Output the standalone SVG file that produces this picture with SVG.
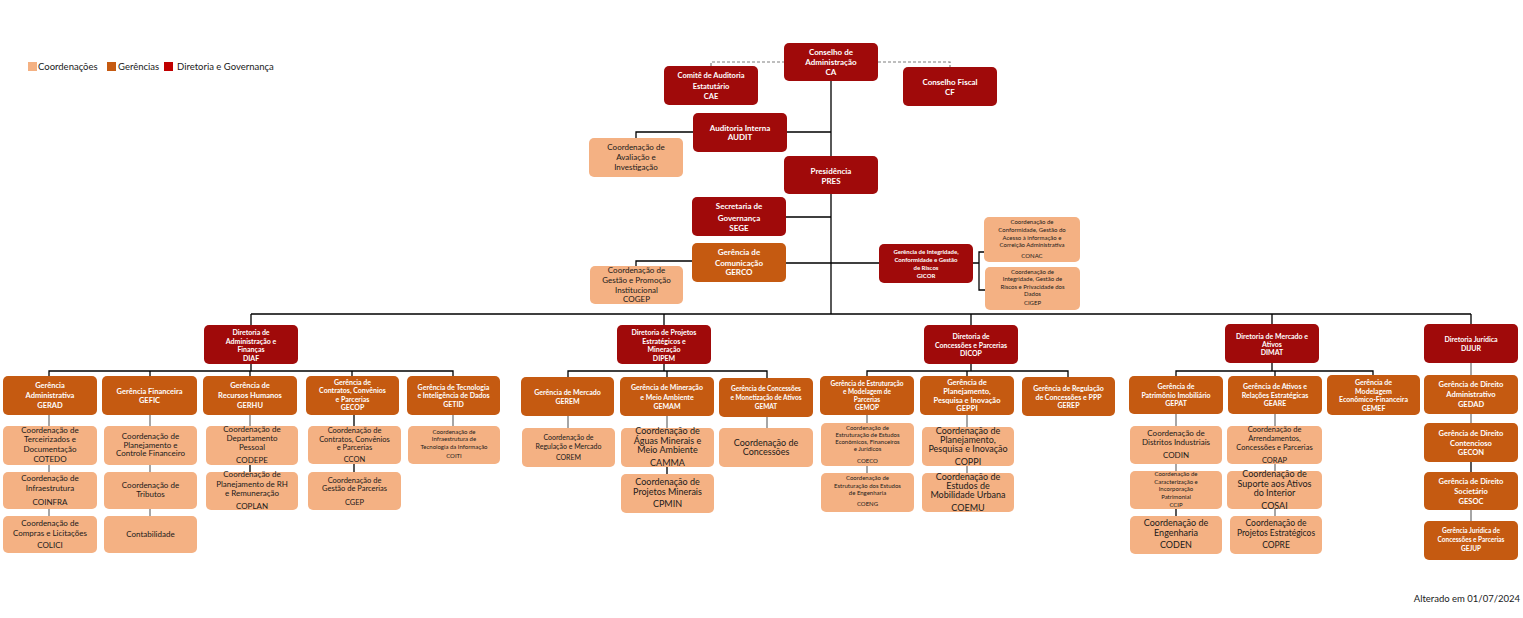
<svg xmlns="http://www.w3.org/2000/svg" width="1523" height="618" viewBox="0 0 1523 618">
<style>
text{font-family:Lato,"Liberation Sans",sans-serif;text-anchor:middle}
.d{fill:#A00A0A}
.g{fill:#C55A11}
.c{fill:#F4B183}
.w{fill:#fff;font-weight:bold}
.k{fill:#1a1a1a}
.ln{stroke:#000;stroke-width:1.3;fill:none}
.gr{stroke:#A6A6A6;stroke-width:2;fill:none}
.ds{stroke:#7F7F7F;stroke-width:1.2;stroke-dasharray:3,2;fill:none}
</style>
<rect width="1523" height="618" fill="#fff"/>
<g id="legend">
<rect x="28" y="62" width="9" height="9" class="c"/>
<text x="38" y="70" style="text-anchor:start;font-size:9.5px" class="k">Coordenações</text>
<rect x="107" y="62" width="9" height="9" class="g"/>
<text x="118" y="70" style="text-anchor:start;font-size:9.5px" class="k">Gerências</text>
<rect x="164" y="62" width="9" height="9" fill="#C00000"/>
<text x="177" y="70" style="text-anchor:start;font-size:9.5px" class="k">Diretoria e Governança</text>
</g>
<g id="connectors">
<path class="ds" d="M711,66V62H784M878,62H950V67"/>
<path class="ln" d="M831,81V314M787,132H831M693,132H636V138M786,217H831M786,263H879M692,261H636V266M973,263H979M985,252H979V290H985"/>
<path class="ln" d="M251,314H1471M251,314V325M664,314V325M971,314V325M1272,314V324M1471,314V324"/>
<path class="ln" d="M251,364V371M49,376V371H453V376M150,371V376M250,371V376M352,371V376"/>
<path class="ln" d="M664,364V371M568,377V371H767V378M667,371V377"/>
<path class="ln" d="M971,364V371M867,376V371H1068V377M967,371V376"/>
<path class="ln" d="M1272,363V371M1176,376V371H1373V375M1275,371V376"/>
<path class="gr" d="M49,415V426M49,465V472M49,509V516M150,415V426M150,465V472M150,509V516M250,415V426M453,414V426M568,416V428M667,416V428M767,417V428M867,415V423M867,466V473M967,415V427M967,466V473M1176,414V426M1176,464V471M1275,414V426M1275,464V471M1275,509V516M1471,363V375M1471,414V423M1471,510V521"/>
<path class="ln" d="M250,465V472M354,415V426M354,464V472M667,467V474M1176,509V516M1471,462V472"/>
</g>
<g id="CA"><rect x="784" y="43" width="94" height="38" rx="5" class="d"/><text class="w" style="font-size:8px"><tspan x="831" y="55.3">Conselho de</tspan><tspan x="831" y="65.3">Administração</tspan><tspan x="831" y="75.3">CA</tspan></text></g>
<g id="CAE"><rect x="664" y="66" width="94" height="39" rx="5" class="d"/><text class="w" style="font-size:7.5px"><tspan x="711" y="78">Comitê de Auditoria</tspan><tspan x="711" y="89">Estatutário</tspan><tspan x="711" y="99">CAE</tspan></text></g>
<g id="CF"><rect x="903" y="67" width="94" height="39" rx="5" class="d"/><text class="w" style="font-size:8px"><tspan x="950" y="84.5">Conselho Fiscal</tspan><tspan x="950" y="94.5">CF</tspan></text></g>
<g id="AUDIT"><rect x="693" y="113" width="94" height="39" rx="5" class="d"/><text class="w" style="font-size:8px"><tspan x="740" y="130.5">Auditoria Interna</tspan><tspan x="740" y="140">AUDIT</tspan></text></g>
<g id="CAVI"><rect x="589" y="138" width="94" height="39" rx="5" class="c"/><text class="k" style="font-size:8px"><tspan x="636" y="150">Coordenação de</tspan><tspan x="636" y="160">Avaliação e</tspan><tspan x="636" y="170">Investigação</tspan></text></g>
<g id="PRES"><rect x="784" y="156" width="94" height="38" rx="5" class="d"/><text class="w" style="font-size:8px"><tspan x="831" y="174">Presidência</tspan><tspan x="831" y="183.5">PRES</tspan></text></g>
<g id="SEGE"><rect x="692" y="197" width="94" height="39" rx="5" class="d"/><text class="w" style="font-size:8px"><tspan x="739" y="209">Secretaria de</tspan><tspan x="739" y="220.5">Governança</tspan><tspan x="739" y="230.5">SEGE</tspan></text></g>
<g id="GERCO"><rect x="692" y="243" width="94" height="39" rx="5" class="g"/><text class="w" style="font-size:8px"><tspan x="739" y="255">Gerência de</tspan><tspan x="739" y="265.5">Comunicação</tspan><tspan x="739" y="275">GERCO</tspan></text></g>
<g id="COGEP"><rect x="590" y="266" width="93" height="38" rx="5" class="c"/><text class="k" style="font-size:8px"><tspan x="636.5" y="273">Coordenação de</tspan><tspan x="636.5" y="283">Gestão e Promoção</tspan><tspan x="636.5" y="293">Institucional</tspan><tspan x="636.5" y="302">COGEP</tspan></text></g>
<g id="GICOR"><rect x="879" y="244" width="94" height="39" rx="5" class="d"/><text class="w" style="font-size:6px"><tspan x="926" y="254">Gerência de Integridade,</tspan><tspan x="926" y="262">Conformidade e Gestão</tspan><tspan x="926" y="270">de Riscos</tspan><tspan x="926" y="278">GICOR</tspan></text></g>
<g id="CONAC"><rect x="984" y="217" width="96" height="45" rx="5" class="c"/><text class="k" style="font-size:6px"><tspan x="1032" y="224">Coordenação de</tspan><tspan x="1032" y="232">Conformidade, Gestão do</tspan><tspan x="1032" y="240">Acesso à informação e</tspan><tspan x="1032" y="247">Correição Administrativa</tspan><tspan x="1032" y="258">CONAC</tspan></text></g>
<g id="CIGEP"><rect x="985" y="267" width="95" height="43" rx="5" class="c"/><text class="k" style="font-size:6px"><tspan x="1032.5" y="274">Coordenação de</tspan><tspan x="1032.5" y="281">Integridade, Gestão de</tspan><tspan x="1032.5" y="289">Riscos e Privacidade dos</tspan><tspan x="1032.5" y="296">Dados</tspan><tspan x="1032.5" y="305">CIGEP</tspan></text></g>
<g id="DIAF"><rect x="204" y="325" width="94" height="39" rx="5" class="d"/><text class="w" style="font-size:7px"><tspan x="251" y="334.5">Diretoria de</tspan><tspan x="251" y="343.5">Administração e</tspan><tspan x="251" y="351.5">Finanças</tspan><tspan x="251" y="360.5">DIAF</tspan></text></g>
<g id="DIPEM"><rect x="617" y="325" width="94" height="39" rx="5" class="d"/><text class="w" style="font-size:7px"><tspan x="664" y="334.5">Diretoria de Projetos</tspan><tspan x="664" y="343.5">Estratégicos e</tspan><tspan x="664" y="351.5">Mineração</tspan><tspan x="664" y="360.5">DIPEM</tspan></text></g>
<g id="DICOP"><rect x="924" y="325" width="94" height="39" rx="5" class="d"/><text class="w" style="font-size:7px"><tspan x="971" y="338.5">Diretoria de</tspan><tspan x="971" y="347.5">Concessões e Parcerias</tspan><tspan x="971" y="355.5">DICOP</tspan></text></g>
<g id="DIMAT"><rect x="1225" y="324" width="94" height="39" rx="5" class="d"/><text class="w" style="font-size:7px"><tspan x="1272" y="338.5">Diretoria de Mercado e</tspan><tspan x="1272" y="346.5">Ativos</tspan><tspan x="1272" y="354.5">DIMAT</tspan></text></g>
<g id="DIJUR"><rect x="1424" y="324" width="94" height="39" rx="5" class="d"/><text class="w" style="font-size:7px"><tspan x="1471" y="341.5">Diretoria Jurídica</tspan><tspan x="1471" y="350.5">DIJUR</tspan></text></g>
<g id="GERAD"><rect x="3" y="376" width="94" height="39" rx="5" class="g"/><text class="w" style="font-size:7.5px"><tspan x="50" y="387.6">Gerência</tspan><tspan x="50" y="397.6">Administrativa</tspan><tspan x="50" y="407.6">GERAD</tspan></text></g>
<g id="GEFIC"><rect x="102" y="376" width="95" height="39" rx="5" class="g"/><text class="w" style="font-size:7.5px"><tspan x="149.5" y="393.6">Gerência Financeira</tspan><tspan x="149.5" y="402.6">GEFIC</tspan></text></g>
<g id="GERHU"><rect x="203" y="376" width="94" height="39" rx="5" class="g"/><text class="w" style="font-size:7.5px"><tspan x="250" y="387.6">Gerência de</tspan><tspan x="250" y="397.6">Recursos Humanos</tspan><tspan x="250" y="407.6">GERHU</tspan></text></g>
<g id="GECOP"><rect x="306" y="376" width="93" height="39" rx="5" class="g"/><text class="w" style="font-size:7px"><tspan x="352.5" y="384.5">Gerência de</tspan><tspan x="352.5" y="393">Contratos, Convênios</tspan><tspan x="352.5" y="401.5">e Parcerias</tspan><tspan x="352.5" y="410">GECOP</tspan></text></g>
<g id="GETID"><rect x="407" y="376" width="93" height="39" rx="5" class="g"/><text class="w" style="font-size:7px"><tspan x="453.5" y="389.5">Gerência de Tecnologia</tspan><tspan x="453.5" y="397.5">e Inteligência de Dados</tspan><tspan x="453.5" y="406.5">GETID</tspan></text></g>
<g id="COTEDO"><rect x="3" y="426" width="94" height="39" rx="5" class="c"/><text class="k" style="font-size:8px"><tspan x="50" y="432.5">Coordenação de</tspan><tspan x="50" y="442">Terceirizados e</tspan><tspan x="50" y="451.5">Documentação</tspan><tspan x="50" y="461.5">COTEDO</tspan></text></g>
<g id="COINFRA"><rect x="3" y="472" width="94" height="37" rx="5" class="c"/><text class="k" style="font-size:8px"><tspan x="50" y="481">Coordenação de</tspan><tspan x="50" y="491">Infraestrutura</tspan><tspan x="50" y="504.5">COINFRA</tspan></text></g>
<g id="COLICI"><rect x="3" y="516" width="94" height="37" rx="5" class="c"/><text class="k" style="font-size:8px"><tspan x="50" y="525.5">Coordenação de</tspan><tspan x="50" y="535.5">Compras e Licitações</tspan><tspan x="50" y="547.5">COLICI</tspan></text></g>
<g id="CPCF"><rect x="104" y="426" width="93" height="39" rx="5" class="c"/><text class="k" style="font-size:8px"><tspan x="150.5" y="438.5">Coordenação de</tspan><tspan x="150.5" y="447.5">Planejamento e</tspan><tspan x="150.5" y="456">Controle Financeiro</tspan></text></g>
<g id="CTRIB"><rect x="104" y="472" width="93" height="37" rx="5" class="c"/><text class="k" style="font-size:8px"><tspan x="150.5" y="487.5">Coordenação de</tspan><tspan x="150.5" y="496.5">Tributos</tspan></text></g>
<g id="CONTAB"><rect x="104" y="516" width="93" height="37" rx="5" class="c"/><text class="k" style="font-size:8px"><tspan x="150.5" y="537">Contabilidade</tspan></text></g>
<g id="CODEPE"><rect x="206" y="426" width="92" height="39" rx="5" class="c"/><text class="k" style="font-size:8px"><tspan x="252" y="432">Coordenação de</tspan><tspan x="252" y="441">Departamento</tspan><tspan x="252" y="450">Pessoal</tspan><tspan x="252" y="462.5">CODEPE</tspan></text></g>
<g id="COPLAN"><rect x="206" y="472" width="92" height="38" rx="5" class="c"/><text class="k" style="font-size:8px"><tspan x="252" y="477">Coordenação de</tspan><tspan x="252" y="486.5">Planejamento de RH</tspan><tspan x="252" y="496">e Remuneração</tspan><tspan x="252" y="508.5">COPLAN</tspan></text></g>
<g id="CCON"><rect x="308" y="426" width="93" height="38" rx="5" class="c"/><text class="k" style="font-size:7.5px"><tspan x="354.5" y="432.5">Coordenação de</tspan><tspan x="354.5" y="441.5">Contratos, Convênios</tspan><tspan x="354.5" y="449.5">e Parcerias</tspan><tspan x="354.5" y="461.5">CCON</tspan></text></g>
<g id="CGEP"><rect x="308" y="472" width="93" height="38" rx="5" class="c"/><text class="k" style="font-size:7.5px"><tspan x="354.5" y="483">Coordenação de</tspan><tspan x="354.5" y="491">Gestão de Parcerias</tspan><tspan x="354.5" y="504.5">CGEP</tspan></text></g>
<g id="COITI"><rect x="408" y="426" width="92" height="38" rx="5" class="c"/><text class="k" style="font-size:6px"><tspan x="454" y="434">Coordenação de</tspan><tspan x="454" y="441">Infraestrutura de</tspan><tspan x="454" y="449">Tecnologia da Informação</tspan><tspan x="454" y="458">COITI</tspan></text></g>
<g id="GEREM"><rect x="521" y="377" width="93" height="39" rx="5" class="g"/><text class="w" style="font-size:7px"><tspan x="567.5" y="394.5">Gerência de Mercado</tspan><tspan x="567.5" y="403.5">GEREM</tspan></text></g>
<g id="GEMAM"><rect x="620" y="377" width="94" height="39" rx="5" class="g"/><text class="w" style="font-size:7px"><tspan x="667" y="389.5">Gerência de Mineração</tspan><tspan x="667" y="399.5">e Meio Ambiente</tspan><tspan x="667" y="408.5">GEMAM</tspan></text></g>
<g id="GEMAT"><rect x="719" y="378" width="94" height="39" rx="5" class="g"/><text class="w" style="font-size:6.5px"><tspan x="766" y="391">Gerência de Concessões</tspan><tspan x="766" y="399.5">e Monetização de Ativos</tspan><tspan x="766" y="408.5">GEMAT</tspan></text></g>
<g id="COREM"><rect x="522" y="428" width="93" height="39" rx="5" class="c"/><text class="k" style="font-size:7px"><tspan x="568.5" y="439.5">Coordenação de</tspan><tspan x="568.5" y="448.5">Regulação e Mercado</tspan><tspan x="568.5" y="459.5">COREM</tspan></text></g>
<g id="CAMMA"><rect x="621" y="428" width="93" height="39" rx="5" class="c"/><text class="k" style="font-size:9px"><tspan x="667.5" y="434">Coordenação de</tspan><tspan x="667.5" y="444">Águas Minerais e</tspan><tspan x="667.5" y="453">Meio Ambiente</tspan><tspan x="667.5" y="466">CAMMA</tspan></text></g>
<g id="CPMIN"><rect x="621" y="474" width="93" height="39" rx="5" class="c"/><text class="k" style="font-size:9px"><tspan x="667.5" y="485">Coordenação de</tspan><tspan x="667.5" y="495">Projetos Minerais</tspan><tspan x="667.5" y="507">CPMIN</tspan></text></g>
<g id="CCONC"><rect x="719" y="428" width="94" height="39" rx="5" class="c"/><text class="k" style="font-size:9px"><tspan x="766" y="446">Coordenação de</tspan><tspan x="766" y="455">Concessões</tspan></text></g>
<g id="GEMOP"><rect x="820" y="376" width="94" height="39" rx="5" class="g"/><text class="w" style="font-size:6.5px"><tspan x="867" y="385.5">Gerência de Estruturação</tspan><tspan x="867" y="393.5">e Modelagem de</tspan><tspan x="867" y="401.5">Parcerias</tspan><tspan x="867" y="409.5">GEMOP</tspan></text></g>
<g id="GEPPI"><rect x="920" y="376" width="94" height="39" rx="5" class="g"/><text class="w" style="font-size:7.5px"><tspan x="967" y="384.5">Gerência de</tspan><tspan x="967" y="393.5">Planejamento,</tspan><tspan x="967" y="402.5">Pesquisa e Inovação</tspan><tspan x="967" y="410.5">GEPPI</tspan></text></g>
<g id="GEREP"><rect x="1022" y="377" width="93" height="39" rx="5" class="g"/><text class="w" style="font-size:7px"><tspan x="1068.5" y="390.5">Gerência de Regulação</tspan><tspan x="1068.5" y="399.5">de Concessões e PPP</tspan><tspan x="1068.5" y="407.5">GEREP</tspan></text></g>
<g id="COECO"><rect x="821" y="423" width="93" height="43" rx="5" class="c"/><text class="k" style="font-size:6px"><tspan x="867.5" y="430">Coordenação de</tspan><tspan x="867.5" y="437">Estruturação de Estudos</tspan><tspan x="867.5" y="444">Econômicos, Financeiros</tspan><tspan x="867.5" y="451">e Jurídicos</tspan><tspan x="867.5" y="463">COECO</tspan></text></g>
<g id="COENG"><rect x="821" y="473" width="93" height="39" rx="5" class="c"/><text class="k" style="font-size:6px"><tspan x="867.5" y="480">Coordenação de</tspan><tspan x="867.5" y="488">Estruturação dos Estudos</tspan><tspan x="867.5" y="495">de Engenharia</tspan><tspan x="867.5" y="506">COENG</tspan></text></g>
<g id="COPPI"><rect x="922" y="427" width="92" height="39" rx="5" class="c"/><text class="k" style="font-size:9px"><tspan x="968" y="434">Coordenação de</tspan><tspan x="968" y="443">Planejamento,</tspan><tspan x="968" y="452">Pesquisa e Inovação</tspan><tspan x="968" y="465">COPPI</tspan></text></g>
<g id="COEMU"><rect x="922" y="473" width="92" height="39" rx="5" class="c"/><text class="k" style="font-size:9px"><tspan x="968" y="480">Coordenação de</tspan><tspan x="968" y="489">Estudos de</tspan><tspan x="968" y="498">Mobilidade Urbana</tspan><tspan x="968" y="511">COEMU</tspan></text></g>
<g id="GEPAT"><rect x="1129" y="376" width="94" height="38" rx="5" class="g"/><text class="w" style="font-size:7px"><tspan x="1176" y="388.5">Gerência de</tspan><tspan x="1176" y="397.5">Patrimônio Imobiliário</tspan><tspan x="1176" y="405.5">GEPAT</tspan></text></g>
<g id="GEARE"><rect x="1228" y="376" width="94" height="38" rx="5" class="g"/><text class="w" style="font-size:7px"><tspan x="1275" y="388.5">Gerência de Ativos e</tspan><tspan x="1275" y="397.5">Relações Estratégicas</tspan><tspan x="1275" y="405.5">GEARE</tspan></text></g>
<g id="GEMEF"><rect x="1327" y="375" width="93" height="40" rx="5" class="g"/><text class="w" style="font-size:7px"><tspan x="1373.5" y="384.5">Gerência de</tspan><tspan x="1373.5" y="393.5">Modelagem</tspan><tspan x="1373.5" y="401.5">Econômico-Financeira</tspan><tspan x="1373.5" y="410.5">GEMEF</tspan></text></g>
<g id="CODIN"><rect x="1130" y="426" width="92" height="38" rx="5" class="c"/><text class="k" style="font-size:8px"><tspan x="1176" y="436">Coordenação de</tspan><tspan x="1176" y="445">Distritos Industriais</tspan><tspan x="1176" y="458">CODIN</tspan></text></g>
<g id="CCIP"><rect x="1130" y="471" width="92" height="38" rx="5" class="c"/><text class="k" style="font-size:6px"><tspan x="1176" y="476">Coordenação de</tspan><tspan x="1176" y="484">Caracterização e</tspan><tspan x="1176" y="491">Incorporação</tspan><tspan x="1176" y="499">Patrimonial</tspan><tspan x="1176" y="507">CCIP</tspan></text></g>
<g id="CODEN"><rect x="1130" y="516" width="92" height="38" rx="5" class="c"/><text class="k" style="font-size:9px"><tspan x="1176" y="526">Coordenação de</tspan><tspan x="1176" y="536">Engenharia</tspan><tspan x="1176" y="548">CODEN</tspan></text></g>
<g id="CORAP"><rect x="1227" y="426" width="95" height="38" rx="5" class="c"/><text class="k" style="font-size:7.5px"><tspan x="1274.5" y="431.5">Coordenação de</tspan><tspan x="1274.5" y="440.5">Arrendamentos,</tspan><tspan x="1274.5" y="449.5">Concessões e Parcerias</tspan><tspan x="1274.5" y="462.5">CORAP</tspan></text></g>
<g id="COSAI"><rect x="1227" y="471" width="95" height="38" rx="5" class="c"/><text class="k" style="font-size:9px"><tspan x="1274.5" y="477">Coordenação de</tspan><tspan x="1274.5" y="487">Suporte aos Ativos</tspan><tspan x="1274.5" y="496">do Interior</tspan><tspan x="1274.5" y="509">COSAI</tspan></text></g>
<g id="COPRE"><rect x="1230" y="516" width="92" height="38" rx="5" class="c"/><text class="k" style="font-size:8.5px"><tspan x="1276" y="526">Coordenação de</tspan><tspan x="1276" y="536">Projetos Estratégicos</tspan><tspan x="1276" y="548">COPRE</tspan></text></g>
<g id="GEDAD"><rect x="1424" y="375" width="94" height="39" rx="5" class="g"/><text class="w" style="font-size:7.5px"><tspan x="1471" y="386.5">Gerência de Direito</tspan><tspan x="1471" y="396.5">Administrativo</tspan><tspan x="1471" y="406.5">GEDAD</tspan></text></g>
<g id="GECON"><rect x="1424" y="423" width="94" height="39" rx="5" class="g"/><text class="w" style="font-size:7.5px"><tspan x="1471" y="435.5">Gerência de Direito</tspan><tspan x="1471" y="445.5">Contencioso</tspan><tspan x="1471" y="454.5">GECON</tspan></text></g>
<g id="GESOC"><rect x="1424" y="472" width="94" height="38" rx="5" class="g"/><text class="w" style="font-size:7.5px"><tspan x="1471" y="483.5">Gerência de Direito</tspan><tspan x="1471" y="493.5">Societário</tspan><tspan x="1471" y="503.5">GESOC</tspan></text></g>
<g id="GEJUP"><rect x="1424" y="521" width="94" height="39" rx="5" class="g"/><text class="w" style="font-size:6.5px"><tspan x="1471" y="533">Gerência Jurídica de</tspan><tspan x="1471" y="542">Concessões e Parcerias</tspan><tspan x="1471" y="551">GEJUP</tspan></text></g>
<text x="1520" y="602" class="k" style="text-anchor:end;font-size:9.5px">Alterado em 01/07/2024</text>
</svg>
